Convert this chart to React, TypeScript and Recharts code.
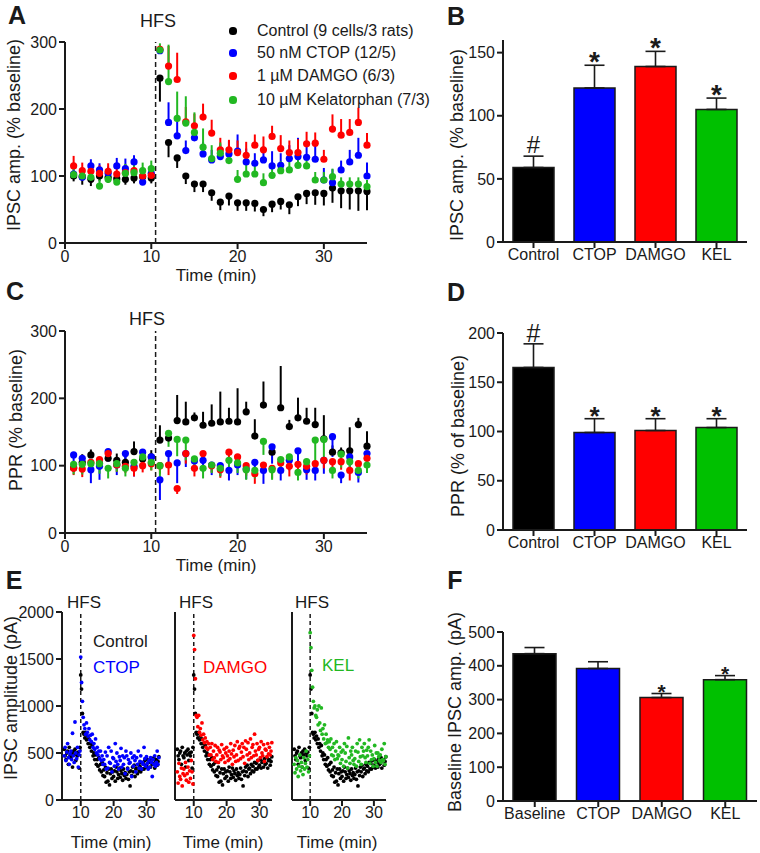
import React from 'react'
import {
  ScatterChart, Scatter, XAxis, YAxis, ErrorBar, ReferenceLine,
  BarChart, Bar, Cell, LabelList,
} from 'recharts'

const FONT = '"Liberation Sans", Arial, Helvetica, sans-serif'
const INK = '#1a1a1a'
const C_CTRL = '#000000'
const C_CTOP = '#0000ff'
const C_DAMGO = '#ff0000'
const C_KEL = '#22b822'
const C_KEL_BAR = '#00c000'

// ---------- A / C : one point per minute ----------
const minutes = [1, 2, 3, 4, 5, 6, 7, 8, 9, 10, 11, 12, 13, 14, 15, 16, 17, 18, 19, 20, 21, 22, 23, 24, 25, 26, 27, 28, 29, 30, 31, 32, 33, 34, 35]

// A: IPSC amplitude (% baseline)
const ampControl = [100, 99, 95, 100, 98, 96, 95, 97, 99, 97, 246, 150, 127, 100, 88, 88, 75, 61, 70, 60, 60, 59, 50, 58, 62, 57, 69, 74, 75, 74, 82, 78, 78, 78, 77]
const ampControlErr = [8, 12, 10, 8, 8, 8, 8, 8, 8, 8, 35, 22, 15, 12, 12, 12, 12, 12, 14, 12, 12, 12, 10, 12, 12, 14, 14, 16, 18, 18, 22, 26, 28, 30, 28]
const ampCtop = [103, 98, 115, 109, 104, 115, 111, 121, 91, 104, 287, 180, 160, 138, 157, 133, 124, 129, 133, 137, 121, 119, 124, 115, 116, 126, 129, 128, 125, 94, 90, 109, 121, 131, 100]
const ampCtopErr = [8, 12, 10, 10, 10, 12, 15, 10, 12, 10, 6, 30, 22, 15, 12, 18, 15, 18, 20, 25, 20, 15, 20, 22, 18, 20, 28, 18, 22, 18, 20, 14, 18, 26, 20]
const ampDamgo = [115, 108, 107, 104, 107, 103, 105, 108, 100, 101, 289, 264, 244, 181, 175, 188, 164, 139, 139, 135, 131, 146, 139, 159, 141, 135, 135, 148, 149, 125, 170, 161, 165, 180, 146]
const ampDamgoErr = [15, 12, 10, 12, 12, 12, 12, 10, 10, 10, 6, 30, 40, 22, 18, 20, 20, 18, 15, 18, 20, 16, 20, 16, 20, 18, 20, 18, 16, 14, 22, 24, 20, 22, 18]
const ampKel = [102, 100, 98, 85, 95, 91, 104, 105, 108, 111, 288, 241, 186, 179, 165, 143, 126, 134, 123, 95, 103, 103, 90, 101, 108, 109, 116, 115, 94, 94, 99, 88, 88, 88, 84]
const ampKelErr = [10, 10, 10, 10, 10, 12, 14, 16, 12, 12, 10, 55, 40, 40, 30, 28, 20, 16, 16, 14, 18, 14, 14, 12, 14, 12, 14, 14, 12, 12, 12, 10, 10, 10, 10]

// C: PPR (% baseline)
const pprControl = [97, 105, 116, 103, 111, 108, 105, 121, 110, 113, 138, 141, 167, 165, 171, 160, 163, 165, 166, 165, 180, 144, 190, 120, 186, 158, 171, 166, 161, 140, 120, 119, 122, 161, 129]
const pprControlErr = [10, 12, 8, 10, 12, 10, 10, 15, 10, 10, 22, 10, 38, 30, 8, 20, 28, 45, 20, 50, 15, 25, 35, 10, 62, 10, 30, 20, 25, 35, 10, 8, 35, 10, 22]
const pprCtop = [116, 111, 94, 99, 121, 101, 118, 99, 120, 113, 79, 118, 104, 118, 107, 108, 101, 100, 93, 101, 95, 105, 93, 128, 93, 108, 122, 94, 93, 108, 143, 86, 113, 90, 118]
const pprCtopErr = [15, 20, 20, 20, 15, 15, 15, 15, 15, 15, 30, 20, 30, 20, 15, 18, 15, 15, 15, 15, 15, 15, 20, 25, 15, 15, 25, 15, 15, 20, 30, 12, 15, 15, 15]
const pprDamgo = [96, 95, 105, 109, 118, 101, 99, 96, 100, 103, 100, 101, 66, 118, 96, 118, 100, 94, 120, 113, 100, 88, 101, 96, 104, 99, 102, 99, 103, 108, 106, 106, 93, 103, 111]
const pprDamgoErr = [10, 12, 10, 12, 10, 10, 10, 12, 10, 10, 12, 15, 8, 15, 12, 12, 10, 12, 12, 12, 15, 15, 12, 15, 12, 15, 18, 12, 10, 12, 12, 12, 15, 12, 12]
const pprKel = [102, 102, 103, 103, 96, 103, 96, 105, 113, 105, 100, 148, 139, 138, 110, 96, 101, 96, 108, 104, 94, 93, 136, 94, 109, 113, 90, 106, 138, 139, 93, 117, 106, 93, 101]
const pprKelErr = [15, 15, 12, 15, 15, 12, 12, 12, 10, 12, 20, 20, 25, 30, 15, 15, 12, 12, 15, 15, 15, 12, 20, 15, 15, 18, 12, 12, 35, 35, 12, 20, 15, 12, 12]

// ---------- B / D / F : bar summaries ----------
const groups = ['Control', 'CTOP', 'DAMGO', 'KEL']
const groupsF = ['Baseline', 'CTOP', 'DAMGO', 'KEL']
const iscMean = [59, 122, 139, 105]
const iscErr = [9, 18, 12, 9]
const iscMarks = ['#', '*', '*', '*']
const pprMean = [165, 99, 101, 104]
const pprErr = [24, 14, 12, 9]
const pprMarks = ['#', '*', '*', '*']
const baseMean = [436, 392, 306, 359]
const baseErr = [18, 20, 12, 12]
const baseMarks = ['', '', '*', '*']

// ---------- E : raw amplitudes (pA), 4 samples per minute, from minute 5 ----------
const E_FIRST_MIN = 5
const rawControl = [
  [540, 470, 430, 500], [520, 380, 560, 470], [450, 500, 350, 520], [480, 540, 420, 500], [470, 510, 340, 560],
  [1330, 1180, 920, 720], [700, 660, 720, 640], [680, 600, 650, 560], [600, 520, 580, 470], [500, 430, 480, 380],
  [430, 360, 450, 320], [380, 300, 400, 260], [320, 250, 350, 190], [290, 200, 330, 160], [280, 330, 230, 300],
  [250, 310, 200, 350], [300, 230, 270, 340], [240, 310, 280, 210], [330, 260, 290, 230], [270, 340, 220, 300],
  [150, 310, 260, 350], [300, 370, 250, 330], [340, 280, 380, 310], [360, 300, 400, 330], [390, 330, 420, 350],
  [370, 430, 340, 400], [410, 350, 440, 380], [390, 450, 340, 420], [430, 370, 410, 460],
]
const rawCtop = [
  [470, 560, 420, 510], [600, 450, 380, 490], [520, 430, 710, 470], [400, 830, 500, 440], [560, 350, 480, 520],
  [1520, 1250, 1050, 880], [800, 760, 700, 820], [720, 680, 760, 640], [690, 620, 700, 560], [600, 540, 650, 500],
  [560, 480, 520, 440], [520, 420, 470, 380], [430, 380, 510, 330], [470, 340, 560, 400], [390, 520, 300, 450],
  [440, 360, 600, 410], [500, 380, 330, 460], [420, 550, 350, 470], [380, 450, 280, 520], [470, 330, 430, 390],
  [400, 500, 250, 450], [360, 470, 420, 300], [450, 380, 520, 340], [410, 470, 330, 400], [380, 560, 440, 360],
  [460, 390, 330, 420], [350, 450, 400, 250], [430, 380, 470, 360], [400, 520, 380, 450],
]
const rawDamgo = [
  [300, 180, 390, 250], [220, 340, 150, 280], [330, 260, 400, 210], [280, 350, 190, 310], [230, 420, 300, 170],
  [1750, 1600, 1290, 900], [880, 780, 900, 720], [760, 690, 820, 640], [700, 610, 660, 560], [620, 540, 600, 480],
  [560, 480, 600, 430], [520, 450, 580, 410], [480, 560, 400, 530], [510, 430, 590, 470], [450, 540, 400, 500],
  [560, 470, 420, 520], [440, 600, 490, 380], [530, 460, 580, 410], [480, 620, 420, 550], [570, 440, 510, 600],
  [460, 560, 390, 630], [540, 480, 610, 430], [500, 650, 450, 560], [590, 470, 700, 520], [480, 600, 420, 540],
  [560, 450, 620, 500], [470, 590, 410, 540], [530, 460, 600, 490], [560, 480, 520, 610],
]
const rawKel = [
  [380, 290, 450, 330], [420, 250, 360, 480], [310, 400, 350, 270], [450, 330, 390, 520], [350, 430, 300, 470],
  [1780, 1620, 1380, 1200], [1050, 980, 1000, 900], [880, 960, 800, 1000], [820, 740, 980, 700], [760, 650, 800, 600],
  [700, 610, 640, 560], [620, 540, 650, 480], [560, 470, 600, 430], [520, 620, 440, 480], [470, 560, 390, 510],
  [430, 530, 360, 600], [500, 410, 570, 340], [660, 450, 390, 520], [480, 560, 420, 380], [440, 520, 360, 600],
  [510, 410, 640, 460], [380, 560, 470, 520], [600, 450, 400, 530], [470, 560, 640, 390], [520, 430, 480, 360],
  [440, 580, 400, 500], [360, 500, 460, 420], [480, 400, 540, 430], [420, 600, 380, 460],
]

// ---------- helpers ----------
const axisLine = { stroke: INK, strokeWidth: 2 }
const tickStyle = { fill: INK, fontSize: 16, fontFamily: FONT }

const perMinute = (vals: number[], errs: number[], up: boolean) =>
  minutes.map((t, i) => ({ t, y: vals[i], err: up ? [0, errs[i]] : [errs[i], 0] }))

const fromRows = (rows: number[][]) =>
  rows.flatMap((row, m) => row.map((y, k) => ({ t: E_FIRST_MIN + m + k / row.length, y })))

const dot = (r: number, fill: string) => (p: any) =>
  <circle cx={p.cx} cy={p.cy} r={r} fill={fill} />

function Txt({ x, y, children, size = 16, color = INK, bold = false, rotate = false, left = false }: any) {
  return (
    <div
      style={{
        position: 'absolute', left: x, top: y, whiteSpace: 'nowrap', lineHeight: 1,
        fontSize: size, color, fontWeight: bold ? 'bold' : 'normal', fontFamily: FONT,
        transform: `translate(${left ? '0' : '-50%'}, -50%)${rotate ? ' rotate(-90deg)' : ''}`,
        pointerEvents: 'none',
      }}
    >
      {children}
    </div>
  )
}

function TimeCourse({ top, marginTop, series }: any) {
  return (
    <div style={{ position: 'absolute', left: 0, top }}>
      <ScatterChart width={380} height={290} margin={{ top: marginTop, right: 13, bottom: 17, left: 0 }}>
        <XAxis type="number" dataKey="t" domain={[0, 35]} ticks={[0, 10, 20, 30]} height={30}
          axisLine={axisLine} tickLine={axisLine} tickSize={6} tickMargin={2} tick={tickStyle} />
        <YAxis type="number" dataKey="y" domain={[0, 300]} ticks={[0, 100, 200, 300]} width={65}
          axisLine={axisLine} tickLine={axisLine} tickSize={6} tickMargin={2} tick={tickStyle} />
        <ReferenceLine x={10.5} stroke={INK} strokeWidth={1.5} strokeDasharray="5 3" />
        {series.map((s: any) => (
          <Scatter key={s.name} name={s.name} data={s.data} fill={s.color} shape={dot(3.6, s.color)} isAnimationActive={false}>
            <ErrorBar dataKey="err" direction="y" width={0} stroke={s.color} strokeWidth={2} />
          </Scatter>
        ))}
      </ScatterChart>
    </div>
  )
}

function BarPanel({ left, top, width, height, margin, names, means, errs, colors, marks, barSize, cap, yMax, yTicks, markStyle }: any) {
  const data = names.map((name: string, i: number) => ({ name, mean: means[i], err: [0, errs[i]] }))
  const renderMark = (p: any) => {
    const vb = p.viewBox && p.viewBox.width != null ? p.viewBox : p
    const i = p.index
    const txt = marks[i]
    if (!txt) return null
    const h = Math.abs(vb.height)
    const pxPerUnit = h / means[i]
    const errTop = vb.y - errs[i] * pxPerUnit
    const st = txt === '#' ? markStyle.hash : markStyle.star
    return (
      <text key={i} x={vb.x + vb.width / 2} y={errTop + st.dy} textAnchor="middle"
        fontSize={st.size} fontWeight={st.bold ? 'bold' : 'normal'} fontFamily={FONT} fill={INK}>
        {txt}
      </text>
    )
  }
  return (
    <div style={{ position: 'absolute', left, top }}>
      <BarChart width={width} height={height} data={data} margin={margin} barCategoryGap={0}>
        <XAxis dataKey="name" type="category" interval={0} height={30}
          axisLine={axisLine} tickLine={axisLine} tickSize={6} tickMargin={1} tick={tickStyle} />
        <YAxis type="number" domain={[0, yMax]} ticks={yTicks} width={63}
          axisLine={axisLine} tickLine={axisLine} tickSize={6} tickMargin={2} tick={tickStyle} />
        <Bar dataKey="mean" barSize={barSize} stroke={INK} strokeWidth={1.5} isAnimationActive={false}>
          {colors.map((c: string, i: number) => <Cell key={i} fill={c} />)}
          <ErrorBar dataKey="err" direction="y" width={cap} stroke={INK} strokeWidth={1.6} />
          <LabelList dataKey="mean" content={renderMark} />
        </Bar>
      </BarChart>
    </div>
  )
}

function Cloud({ left, width, yWidth, showY, pts, color }: any) {
  return (
    <div style={{ position: 'absolute', left, top: 590 }}>
      <ScatterChart width={width} height={260} margin={{ top: 22, right: 6, bottom: 20, left: 0 }}>
        <XAxis type="number" dataKey="t" domain={[4.3, 33.8]} ticks={[10, 20, 30]} height={30}
          axisLine={axisLine} tickLine={axisLine} tickSize={6} tickMargin={1} tick={tickStyle} />
        <YAxis type="number" dataKey="y" domain={[0, 2000]} ticks={[0, 500, 1000, 1500, 2000]} width={yWidth}
          axisLine={axisLine} tickLine={axisLine} tickSize={6} tickMargin={2} tick={showY ? tickStyle : false} />
        <ReferenceLine x={10} stroke={INK} strokeWidth={1.5} strokeDasharray="4 3" />
        <Scatter data={fromRows(rawControl)} shape={dot(1.9, C_CTRL)} isAnimationActive={false} />
        <Scatter data={pts} shape={dot(1.9, color)} isAnimationActive={false} />
      </ScatterChart>
    </div>
  )
}

const legendA = [
  { label: 'Control (9 cells/3 rats)', color: C_CTRL },
  { label: '50 nM CTOP (12/5)', color: C_CTOP },
  { label: '1 \u00b5M DAMGO (6/3)', color: C_DAMGO },
  { label: '10 \u00b5M Kelatorphan (7/3)', color: C_KEL },
]
const legendY = [31, 53, 76, 100]

export default function App() {
  const seriesA = [
    { name: 'Control', color: C_CTRL, data: perMinute(ampControl, ampControlErr, false) },
    { name: 'CTOP', color: C_CTOP, data: perMinute(ampCtop, ampCtopErr, true) },
    { name: 'DAMGO', color: C_DAMGO, data: perMinute(ampDamgo, ampDamgoErr, true) },
    { name: 'KEL', color: C_KEL, data: perMinute(ampKel, ampKelErr, true) },
  ]
  const seriesC = [
    { name: 'Control', color: C_CTRL, data: perMinute(pprControl, pprControlErr, true) },
    { name: 'CTOP', color: C_CTOP, data: perMinute(pprCtop, pprCtopErr, false) },
    { name: 'DAMGO', color: C_DAMGO, data: perMinute(pprDamgo, pprDamgoErr, false) },
    { name: 'KEL', color: C_KEL, data: perMinute(pprKel, pprKelErr, false) },
  ]
  const barColors = [C_CTRL, C_CTOP, C_DAMGO, C_KEL_BAR]

  return (
    <div style={{ position: 'relative', width: 760, height: 853, background: '#fff', fontFamily: FONT, overflow: 'hidden' }}>
      <style>{'body{margin:0}'}</style>

      <TimeCourse top={0} marginTop={42} series={seriesA} />
      <TimeCourse top={290} marginTop={41} series={seriesC} />

      <BarPanel left={440} top={0} width={320} height={290} margin={{ top: 40, right: 13, bottom: 18, left: 0 }}
        names={groups} means={iscMean} errs={iscErr} colors={barColors} marks={iscMarks}
        barSize={41} cap={10} yMax={160} yTicks={[0, 50, 100, 150]}
        markStyle={{ hash: { size: 24, dy: -3, bold: false }, star: { size: 28, dy: 6, bold: true } }} />
      <BarPanel left={440} top={290} width={320} height={290} margin={{ top: 43, right: 13, bottom: 20, left: 0 }}
        names={groups} means={pprMean} errs={pprErr} colors={barColors} marks={pprMarks}
        barSize={41} cap={10} yMax={200} yTicks={[0, 50, 100, 150, 200]}
        markStyle={{ hash: { size: 25, dy: -2, bold: false }, star: { size: 26, dy: 6, bold: true } }} />
      <BarPanel left={440} top={590} width={320} height={260} margin={{ top: 42, right: 3, bottom: 19, left: 0 }}
        names={groupsF} means={baseMean} errs={baseErr} colors={barColors} marks={baseMarks}
        barSize={43} cap={10} yMax={500} yTicks={[0, 100, 200, 300, 400, 500]}
        markStyle={{ hash: { size: 22, dy: -2, bold: false }, star: { size: 21, dy: 5, bold: true } }} />

      <Cloud left={0} width={165} yWidth={62} showY pts={fromRows(rawCtop)} color={C_CTOP} />
      <Cloud left={160} width={118} yWidth={15} showY={false} pts={fromRows(rawDamgo)} color={C_DAMGO} />
      <Cloud left={277} width={115} yWidth={15} showY={false} pts={fromRows(rawKel)} color={C_KEL} />

      {/* panel letters */}
      <Txt x={17} y={15} size={25} bold>A</Txt>
      <Txt x={456} y={16} size={25} bold>B</Txt>
      <Txt x={15} y={291} size={25} bold>C</Txt>
      <Txt x={456} y={292} size={25} bold>D</Txt>
      <Txt x={14} y={580} size={25} bold>E</Txt>
      <Txt x={455} y={580} size={25} bold>F</Txt>

      {/* A */}
      <Txt x={158} y={21} size={18}>HFS</Txt>
      <Txt x={14} y={135} size={18} rotate>IPSC amp. (% baseline)</Txt>
      <Txt x={216} y={275} size={17}>Time (min)</Txt>
      {legendA.map((l, i) => (
        <React.Fragment key={l.label}>
          <div style={{ position: 'absolute', left: 233 - 3.6, top: legendY[i] - 3.6, width: 7.2, height: 7.2, borderRadius: '50%', background: l.color }} />
          <Txt x={257} y={legendY[i]} size={16} left>{l.label}</Txt>
        </React.Fragment>
      ))}

      {/* B */}
      <Txt x={457} y={145} size={18} rotate>IPSC amp. (% baseline)</Txt>

      {/* C */}
      <Txt x={147} y={319} size={18}>HFS</Txt>
      <Txt x={16} y={420} size={18} rotate>PPR (% baseline)</Txt>
      <Txt x={216} y={565} size={17}>Time (min)</Txt>

      {/* D */}
      <Txt x={458} y={436} size={18} rotate>PPR (% of baseline)</Txt>

      {/* E */}
      <Txt x={11} y={698} size={18} rotate>IPSC amplitude (pA)</Txt>
      <Txt x={84} y={602} size={17}>HFS</Txt>
      <Txt x={196} y={602} size={17}>HFS</Txt>
      <Txt x={312} y={602} size={17}>HFS</Txt>
      <Txt x={93} y={641} size={17} left>Control</Txt>
      <Txt x={93} y={667} size={17} color={C_CTOP} left>CTOP</Txt>
      <Txt x={203} y={667} size={17} color={C_DAMGO} left>DAMGO</Txt>
      <Txt x={322} y={665} size={17} color={C_KEL} left>KEL</Txt>
      <Txt x={111} y={842} size={17}>Time (min)</Txt>
      <Txt x={223} y={842} size={17}>Time (min)</Txt>
      <Txt x={337} y={842} size={17}>Time (min)</Txt>

      {/* F */}
      <Txt x={455} y={712} size={18} rotate>Baseline IPSC amp. (pA)</Txt>
    </div>
  )
}
